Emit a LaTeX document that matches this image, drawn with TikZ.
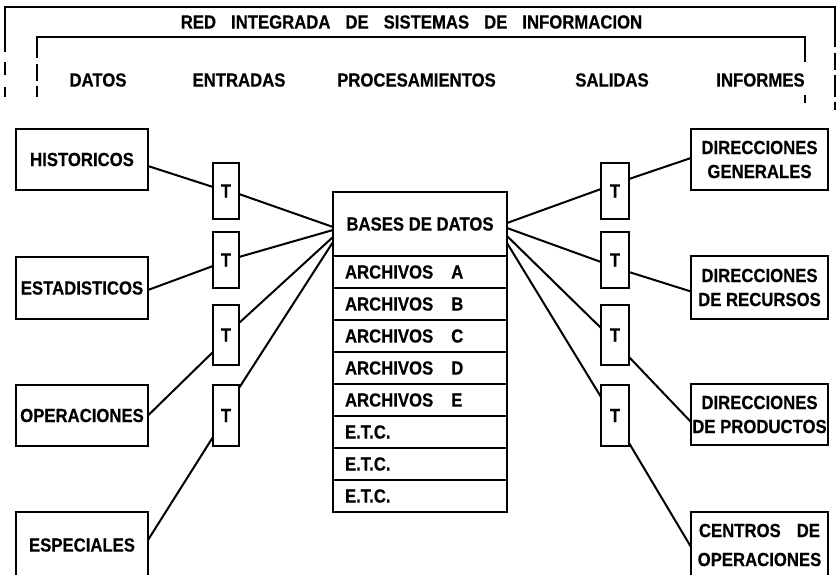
\documentclass[tikz,border=0pt]{standalone}
\usepackage{fontspec}
\setmainfont{Liberation Sans}[FakeStretch=0.88,BoldFeatures={FakeBold=0.4}]
\usetikzlibrary{calc}
\begin{document}
\begin{tikzpicture}[x=1pt,y=-1pt,line width=2pt,
  box/.style={draw,line width=2pt,inner sep=0pt,outer sep=0pt,align=center,
    font=\fontsize{19}{24}\selectfont\bfseries},
  tbox/.style={draw,line width=2pt,inner sep=0pt,outer sep=0pt,
    font=\fontsize{19}{20}\selectfont\bfseries},
  hdr/.style={inner sep=0pt,font=\fontsize{19}{20}\selectfont\bfseries},
  rowbox/.style={draw,line width=2pt,inner xsep=12pt,inner ysep=0pt,outer sep=0pt,
    minimum height=32pt,text width=150pt,align=left,anchor=north,
    font=\fontsize{19}{20}\selectfont\bfseries},
  conn/.style={line width=2pt},
  frame/.style={line width=2pt}]
\useasboundingbox (0,0) rectangle (838,575);
\fill[white] (0,0) rectangle (838,575);

% frame
\draw[frame] (5,52) -- (5,7) -- (835,7) -- (835,47);
\draw[frame] (5,62) -- (5,75) (5,87) -- (5,97);
\draw[frame] (835,53) -- (835,70) (835,75) -- (835,97) (835,102) -- (835,110);
\draw[frame] (37,58) -- (37,37) -- (805,37) -- (805,62);
\draw[frame] (37,64) -- (37,81) (37,86) -- (37,97) (805,95) -- (805,103);

\node[inner sep=0pt,font=\fontsize{19}{20}\selectfont\bfseries] (title) at (411.5,22)
  {RED\hspace{15pt}INTEGRADA\hspace{15pt}DE\hspace{15pt}SISTEMAS\hspace{15pt}DE\hspace{15pt}INFORMACION};

\node[hdr] (h1) at (98,80) {DATOS};
\node[hdr] (h2) at (239,80) {ENTRADAS};
\node[hdr] (h3) at (416.5,80) {PROCESAMIENTOS};
\node[hdr] (h4) at (612,80) {SALIDAS};
\node[hdr] (h5) at (760.5,80) {INFORMES};

% left boxes
\node[box,minimum width=132pt,minimum height=61pt] (hist) at (82,159.5) {HISTORICOS};
\node[box,minimum width=132pt,minimum height=62pt] (est) at (82,288) {ESTADISTICOS};
\node[box,minimum width=132pt,minimum height=61pt] (op) at (82,415.5) {OPERACIONES};
\node[box,minimum width=132pt,minimum height=66pt] (esp) at (82,545) {ESPECIALES};

% left T boxes
\node[tbox,minimum width=26pt,minimum height=56pt] (lt1) at (226,191) {T};
\node[tbox,minimum width=26pt,minimum height=56pt] (lt2) at (226,260) {T};
\node[tbox,minimum width=26pt,minimum height=60pt] (lt3) at (226,335) {T};
\node[tbox,minimum width=26pt,minimum height=61pt] (lt4) at (226,415.5) {T};

% right T boxes
\node[tbox,minimum width=28pt,minimum height=56pt] (rt1) at (615,191) {T};
\node[tbox,minimum width=28pt,minimum height=56pt] (rt2) at (615,260) {T};
\node[tbox,minimum width=28pt,minimum height=60pt] (rt3) at (615,335) {T};
\node[tbox,minimum width=28pt,minimum height=61pt] (rt4) at (615,415.5) {T};

% right boxes
\node[box,minimum width=137pt,minimum height=61pt] (dg) at (759.5,159.5) {DIRECCIONES\\GENERALES};
\node[box,minimum width=137pt,minimum height=63pt] (dr) at (759.5,287.5) {DIRECCIONES\\DE RECURSOS};
\node[box,minimum width=137pt,minimum height=61pt] (dp) at (759.5,414.5) {DIRECCIONES\\DE PRODUCTOS};
\node[box,minimum width=137pt,minimum height=66pt,font=\fontsize{19}{29}\selectfont\bfseries] (co) at (759.5,545)
  {\makebox[121pt][s]{CENTROS DE}\\OPERACIONES};

% central data base
\node[box,minimum width=174pt,minimum height=64pt] (bases) at (420,224) {BASES DE DATOS};
\node[rowbox] (ra) at (bases.south) {ARCHIVOS\hspace{18pt}A};
\node[rowbox] (rb) at (ra.south) {ARCHIVOS\hspace{18pt}B};
\node[rowbox] (rc) at (rb.south) {ARCHIVOS\hspace{18pt}C};
\node[rowbox] (rd) at (rc.south) {ARCHIVOS\hspace{18pt}D};
\node[rowbox] (re) at (rd.south) {ARCHIVOS\hspace{18pt}E};
\node[rowbox] (rf) at (re.south) {E.T.C.};
\node[rowbox] (rg) at (rf.south) {E.T.C.};
\node[rowbox] (rh) at (rg.south) {E.T.C.};

% left connectors
\draw[conn] ([yshift=-6.5pt]hist.east) -- ([yshift=4pt]lt1.west);
\draw[conn] ([yshift=-3pt]lt1.east) -- ([yshift=-3pt]bases.west);
\draw[conn] ([yshift=-2pt]est.east) -- ([yshift=-6pt]lt2.west);
\draw[conn] ([yshift=3pt]lt2.east) -- ([yshift=-6pt]bases.west);
\draw[conn] (op.east) -- ([yshift=-17pt]lt3.west);
\draw[conn] ([yshift=12pt]lt3.east) -- ([yshift=-13pt]bases.west);
\draw[conn] ([yshift=5pt]esp.east) -- ([yshift=-21.5pt]lt4.west);
\draw[conn] ([yshift=27.5pt]lt4.east) -- ([yshift=-18pt]bases.west);

% right connectors
\draw[conn] ([yshift=1pt]bases.east) -- ([yshift=2pt]rt1.west);
\draw[conn] ([yshift=12pt]rt1.east) -- ([yshift=1.5pt]dg.west);
\draw[conn] ([yshift=-4pt]bases.east) -- ([yshift=-2pt]rt2.west);
\draw[conn] ([yshift=-12pt]rt2.east) -- ([yshift=-4pt]dr.west);
\draw[conn] ([yshift=-12pt]bases.east) -- ([yshift=7pt]rt3.west);
\draw[conn] ([yshift=-22pt]rt3.east) -- ([yshift=-7.5pt]dp.west);
\draw[conn] ([yshift=-19pt]bases.east) -- ([yshift=18.5pt]rt4.west);
\draw[conn] ([yshift=-27.5pt]rt4.east) -- ([yshift=-2pt]co.west);
\end{tikzpicture}
\end{document}
